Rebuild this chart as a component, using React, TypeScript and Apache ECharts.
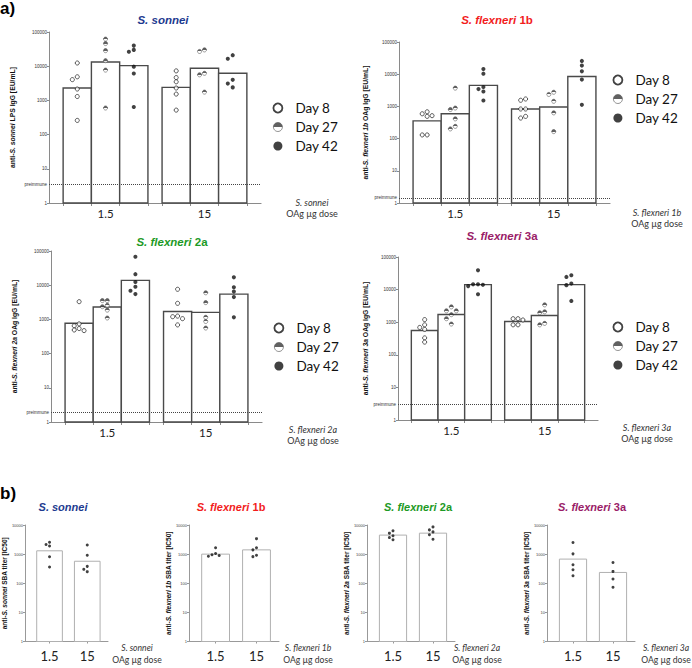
import { useEffect, useRef } from 'react';
import * as echarts from 'echarts';

// ---------- DATA ----------
const DAYS = ['Day 8', 'Day 27', 'Day 42'];
const DOSES = ['1.5', '15'];

// Panel a: IgG bars, order = [1.5: D8, D27, D42, 15: D8, D27, D42]
const SONNEI_IGG_BARS = [2300, 13300, 10400, 2400, 8700, 6200];
const SONNEI_IGG_POINTS = [
  [12400, 4900, 4050, 2150, 1300, 260],
  [62000, 46000, 28500, 14500, 7700, 600],
  [40000, 30000, 26500, 9700, 6100, 640],
  [7300, 4650, 3500, 2300, 1530, 520],
  [30000, 27000, 6200, 5600, 1750],
  [21000, 16500, 4000, 3100, 2400],
];
const FLEX1B_IGG_BARS = [355, 590, 4500, 830, 960, 8500];
const FLEX1B_IGG_POINTS = [
  [680, 590, 515, 490, 130, 130],
  [3700, 890, 800, 410, 240, 200],
  [14500, 10400, 4000, 3450, 2900, 1520],
  [1700, 1550, 830, 830, 490, 435],
  [2750, 2350, 1440, 630, 165],
  [25800, 18500, 12300, 6800, 1120],
];
const FLEX2A_IGG_BARS = [770, 2300, 13800, 1700, 1600, 5500];
const FLEX2A_IGG_POINTS = [
  [3300, 740, 650, 540, 490, 470],
  [3550, 3550, 2570, 2350, 1870, 1100],
  [68000, 21000, 12400, 9000, 6900, 5500],
  [7600, 2950, 1250, 1200, 1050, 690],
  [6000, 3100, 1150, 870, 560],
  [17000, 8700, 6500, 4500, 1150],
];
const FLEX3A_IGG_BARS = [555, 1720, 14200, 1050, 1600, 14200];
const FLEX3A_IGG_POINTS = [
  [1200, 830, 690, 600, 330, 245],
  [2950, 2230, 2230, 1700, 1280, 880],
  [39000, 14500, 14500, 12800, 14000, 7200],
  [1280, 1280, 1170, 830, 830],
  [3400, 2080, 1950, 920, 830],
  [27600, 24500, 15300, 13700, 4500],
];
const PREIMMUNE = [3.5, 1.45, 1.95, 3.0];

// Panel b: SBA titers, [1.5, 15]
const SONNEI_SBA_BARS = [1300, 570];
const SONNEI_SBA_POINTS = [[2570, 2150, 1900, 810, 360], [2050, 920, 380, 300, 250]];
const FLEX1B_SBA_BARS = [1000, 1400];
const FLEX1B_SBA_POINTS = [[1650, 1050, 950, 900, 850], [3400, 1650, 1400, 920, 820]];
const FLEX2A_SBA_BARS = [4500, 5250];
const FLEX2A_SBA_POINTS = [[6300, 5250, 4250, 3700, 3100], [8600, 6800, 5800, 4600, 3250]];
const FLEX3A_SBA_BARS = [675, 235];
const FLEX3A_SBA_POINTS = [[2500, 1020, 430, 290, 180], [515, 255, 140, 73]];

const IGG_TICKS_MAX = 100000;
const SBA_TICKS_MAX = 10000;

// ---------- LAYOUT / STYLE ----------
const BAR_X = [1, 2, 3, 4.5, 5.5, 6.5];
const BAR_EDGES = [0.5, 1.5, 2.5, 3.5, 4, 5, 6, 7];
const GROUP_CENTERS = [2, 5.5];
const SBA_X = [1, 2];

const STRAINS = [
  { key: 'sonnei', it: 'S. sonnei', rest: '', color: '#1d3a8f' },
  { key: '1b', it: 'S. flexneri', rest: '1b', color: '#f21d1d' },
  { key: '2a', it: 'S. flexneri', rest: '2a', color: '#1d9a26' },
  { key: '3a', it: 'S. flexneri', rest: '3a', color: '#9a1c68' },
];

const A_LAYOUT = [
  { left: 49, top: 32, width: 212, height: 171, legend: [272, 103], title: [163, 20], dose: [312, 202], nameGap: 33 },
  { left: 399, top: 42, width: 211, height: 161, legend: [612, 75], title: [497, 20], dose: [657, 212], nameGap: 30 },
  { left: 51, top: 251, width: 211, height: 171, legend: [273, 323], title: [172, 242], dose: [313, 429], nameGap: 33 },
  { left: 398, top: 257, width: 200, height: 163, legend: [612, 322], title: [502, 236], dose: [647, 427], nameGap: 29 },
];
const B_LAYOUT = [
  { left: 22, width: 86, title: [63, 507], dose: [137, 648], nameGap: 11 },
  { left: 189, width: 90, title: [231, 507], dose: [308, 648], nameGap: 14 },
  { left: 367, width: 88, title: [418, 507], dose: [477, 648], nameGap: 15 },
  { left: 547, width: 88, title: [592, 507], dose: [666, 648], nameGap: 12 },
];
const B_TOP = 525;
const B_HEIGHT = 116.5;

const AXIS_COLOR = '#8a8a8a';
const FONT = '"Liberation Sans", Arial, sans-serif';
const FONT2 = 'Lato, "Liberation Sans", sans-serif';

const HALF = () =>
  new echarts.graphic.LinearGradient(0, 0, 0, 1, [
    { offset: 0, color: '#3a3a3a' },
    { offset: 0.5, color: '#3a3a3a' },
    { offset: 0.5, color: '#ffffff' },
    { offset: 1, color: '#ffffff' },
  ]);

const DAY_STYLE = [
  { color: '#ffffff', borderColor: '#1a1a1a', borderWidth: 0.9 },
  { color: HALF(), borderColor: '#333', borderWidth: 0.6 },
  { color: '#111111', borderColor: '#111111', borderWidth: 0 },
];
const POINT_SIZE = 4.1;

function swarm(vals: number[], pxDecade: number, pxUnit: number, size: number): number[] {
  const offs = new Array(vals.length).fill(0);
  const placed: { y: number; x: number }[] = [];
  const order = vals.map((_, i) => i).sort((a, b) => vals[b] - vals[a]);
  const step = (size * 1.2) / pxUnit;
  const cands = [0, -1, 1, -2, 2, -3, 3];
  for (const i of order) {
    const y = Math.log10(vals[i]) * pxDecade;
    let chosen = 0;
    for (const c of cands) {
      const x = c * step;
      const hit = placed.some((p) => Math.abs(p.y - y) < size && Math.abs(p.x - x) * pxUnit < size);
      if (!hit) {
        chosen = x;
        break;
      }
    }
    offs[i] = chosen;
    placed.push({ y, x: chosen });
  }
  return offs;
}

function barRender(width: number, stroke: string, lineWidth: number) {
  return (_params: any, api: any) => {
    const x = api.value(0) as number;
    const v = api.value(1) as number;
    const tl = api.coord([x - width / 2, v]);
    const br = api.coord([x + width / 2, 1]);
    return {
      type: 'rect',
      shape: { x: tl[0], y: tl[1], width: br[0] - tl[0], height: br[1] - tl[1] },
      style: { fill: '#ffffff', stroke, lineWidth },
    };
  };
}

function yName(strain: (typeof STRAINS)[number], suffix: string) {
  const it = strain.rest ? `${strain.it} ${strain.rest}` : strain.it;
  return `{n|anti-}{i|${it}}{n|${suffix}}`;
}

function buildOption() {
  const grid: any[] = [];
  const xAxis: any[] = [];
  const yAxis: any[] = [];
  const series: any[] = [];
  const legend: any[] = [];
  const graphic: any[] = [];

  const txt = (x: number, y: number, style: any) =>
    graphic.push({ type: 'text', x, y, silent: true, style: { align: 'center', verticalAlign: 'middle', ...style } });

  txt(0, 8, { text: 'a)', align: 'left', fontSize: 17, fontWeight: 'bold', fontFamily: FONT, fill: '#000' });
  txt(0, 493, { text: 'b)', align: 'left', fontSize: 17, fontWeight: 'bold', fontFamily: FONT, fill: '#000' });

  const iggBars = [SONNEI_IGG_BARS, FLEX1B_IGG_BARS, FLEX2A_IGG_BARS, FLEX3A_IGG_BARS];
  const iggPoints = [SONNEI_IGG_POINTS, FLEX1B_IGG_POINTS, FLEX2A_IGG_POINTS, FLEX3A_IGG_POINTS];
  const sbaBars = [SONNEI_SBA_BARS, FLEX1B_SBA_BARS, FLEX2A_SBA_BARS, FLEX3A_SBA_BARS];
  const sbaPoints = [SONNEI_SBA_POINTS, FLEX1B_SBA_POINTS, FLEX2A_SBA_POINTS, FLEX3A_SBA_POINTS];

  const titleText = (s: (typeof STRAINS)[number]) => (s.rest ? `{i|${s.it}} {n|${s.rest}}` : `{i|${s.it}}`);
  const titleRich = (s: (typeof STRAINS)[number], size: number) => ({
    i: { fontStyle: 'italic', fontWeight: 'bold', fontSize: size, fontFamily: FONT, fill: s.color },
    n: { fontWeight: 'bold', fontSize: size, fontFamily: FONT, fill: s.color },
  });
  const doseLabel = (s: (typeof STRAINS)[number], x: number, y: number, size: number) => {
    txt(x, y, {
      text: s.rest ? `${s.it} ${s.rest}` : s.it,
      fontStyle: 'italic',
      fontSize: size,
      fontFamily: FONT2,
      fill: '#333',
    });
    txt(x, y + 11.5, { text: 'OAg µg dose', fontSize: size, fontFamily: FONT2, fill: '#333' });
  };

  // ---- Panel a ----
  STRAINS.forEach((s, i) => {
    const L = A_LAYOUT[i];
    grid.push({ left: L.left, top: L.top, width: L.width, height: L.height });
    xAxis.push({
      gridIndex: i,
      type: 'value',
      min: 0,
      max: 7.5,
      axisLine: { show: true, onZero: false, lineStyle: { color: AXIS_COLOR, width: 1.2 } },
      axisTick: { show: true, customValues: BAR_EDGES, length: 3, lineStyle: { color: AXIS_COLOR } },
      axisLabel: {
        show: true,
        customValues: GROUP_CENTERS,
        formatter: (v: number) => DOSES[GROUP_CENTERS.findIndex((c) => Math.abs(c - v) < 1e-6)] ?? '',
        fontSize: 11.5,
        fontFamily: FONT2,
        color: '#222',
        margin: 4,
      },
      splitLine: { show: false },
    });
    yAxis.push({
      gridIndex: i,
      type: 'log',
      logBase: 10,
      min: 1,
      max: IGG_TICKS_MAX,
      splitNumber: 5,
      axisLine: { show: true, onZero: false, lineStyle: { color: AXIS_COLOR, width: 1 } },
      axisTick: { show: true, length: 2, lineStyle: { color: AXIS_COLOR } },
      axisLabel: { fontSize: 4.5, color: '#333', margin: 2, fontFamily: FONT, formatter: (v: number) => String(Math.round(v)) },
      splitLine: { show: false },
      name: yName(s, s.key === 'sonnei' ? ' LPS IgG [EU/mL]' : ' OAg IgG [EU/mL]'),
      nameLocation: 'middle',
      nameGap: L.nameGap,
      nameTextStyle: {
        rich: {
          n: { fontSize: 6.8, fontWeight: 'bold', fontFamily: FONT, color: '#111' },
          i: { fontSize: 6.8, fontWeight: 'bold', fontStyle: 'italic', fontFamily: FONT, color: '#111' },
        },
      },
    });

    series.push({
      type: 'custom',
      name: 'bars-a' + i,
      xAxisIndex: i,
      yAxisIndex: i,
      z: 2,
      silent: true,
      renderItem: barRender(1, '#4a4a4a', 1.4),
      encode: { x: 0, y: 1 },
      data: iggBars[i].map((v, k) => [BAR_X[k], v]),
    });

    DAYS.forEach((day, d) => {
      const data: number[][] = [];
      [0, 1].forEach((g) => {
        const k = g * 3 + d;
        const pts = iggPoints[i][k];
        const offs = swarm(pts, L.height / 5, L.width / 7.5, POINT_SIZE);
        pts.forEach((v, j) => data.push([BAR_X[k] + offs[j], v]));
      });
      const ser: any = {
        type: 'scatter',
        name: day,
        xAxisIndex: i,
        yAxisIndex: i,
        z: 4,
        symbol: 'circle',
        symbolSize: POINT_SIZE,
        itemStyle: { ...DAY_STYLE[d] },
        data,
      };
      if (d === 0) {
        ser.markLine = {
          silent: true,
          symbol: 'none',
          z: 5,
          data: [{ yAxis: PREIMMUNE[i] }],
          lineStyle: { type: 'dotted', color: '#444', width: 1 },
          label: { show: true, position: 'start', formatter: 'preimmune', fontSize: 4.5, color: '#333', distance: 2, fontFamily: FONT },
        };
      }
      series.push(ser);
    });

    legend.push({
      left: L.legend[0] - 4.5,
      top: L.legend[1] - 7,
      orient: 'vertical',
      itemWidth: 9,
      itemHeight: 9,
      itemGap: 5,
      icon: 'circle',
      selectedMode: false,
      textStyle: { fontSize: 13.5, lineHeight: 14, fontFamily: FONT2, color: '#111', padding: [0, 0, 0, 8] },
      data: [
        { name: DAYS[0], itemStyle: { color: '#fff', borderColor: '#111', borderWidth: 1.8 } },
        { name: DAYS[1], itemStyle: { color: HALF(), borderColor: '#555', borderWidth: 0.8 } },
        { name: DAYS[2], itemStyle: { color: '#111', borderColor: '#111', borderWidth: 0 } },
      ],
    });

    txt(L.title[0], L.title[1], { text: titleText(s), rich: titleRich(s, 11.5) });
    doseLabel(s, L.dose[0], L.dose[1], 9);
  });

  // ---- Panel b ----
  STRAINS.forEach((s, i) => {
    const L = B_LAYOUT[i];
    const gi = 4 + i;
    grid.push({ left: L.left, top: B_TOP, width: L.width, height: B_HEIGHT });
    xAxis.push({
      gridIndex: gi,
      type: 'value',
      min: 0.35,
      max: 2.55,
      axisLine: { show: true, onZero: false, lineStyle: { color: '#999', width: 1 } },
      axisTick: { show: true, customValues: SBA_X, length: 2, lineStyle: { color: '#999' } },
      axisLabel: {
        show: true,
        customValues: SBA_X,
        formatter: (v: number) => DOSES[SBA_X.findIndex((c) => Math.abs(c - v) < 1e-6)] ?? '',
        fontSize: 13,
        fontFamily: FONT2,
        color: '#222',
        margin: 8,
      },
      splitLine: { show: false },
    });
    yAxis.push({
      gridIndex: gi,
      type: 'log',
      logBase: 10,
      min: 1,
      max: SBA_TICKS_MAX,
      splitNumber: 4,
      axisLine: { show: true, onZero: false, lineStyle: { color: '#999', width: 1 } },
      axisTick: { show: true, length: 2, lineStyle: { color: '#999' } },
      axisLabel: { fontSize: 4, color: '#444', margin: 2, fontFamily: FONT, formatter: (v: number) => String(Math.round(v)) },
      splitLine: { show: false },
      name: yName(s, ' SBA titer [IC50]'),
      nameLocation: 'middle',
      nameGap: L.nameGap,
      nameTextStyle: {
        rich: {
          n: { fontSize: 6.5, fontWeight: 'bold', fontFamily: FONT, color: '#111' },
          i: { fontSize: 6.5, fontWeight: 'bold', fontStyle: 'italic', fontFamily: FONT, color: '#111' },
        },
      },
    });
    series.push({
      type: 'custom',
      name: 'bars-b' + i,
      xAxisIndex: gi,
      yAxisIndex: gi,
      z: 2,
      silent: true,
      renderItem: barRender(0.68, '#b0b0b0', 1),
      encode: { x: 0, y: 1 },
      data: sbaBars[i].map((v, k) => [SBA_X[k], v]),
    });
    const unit = L.width / 2.2;
    const data: number[][] = [];
    sbaPoints[i].forEach((pts, k) => {
      const offs = swarm(pts, B_HEIGHT / 4, unit, 3);
      pts.forEach((v, j) => data.push([SBA_X[k] + offs[j], v]));
    });
    series.push({
      type: 'scatter',
      name: 'SBA ' + s.key,
      xAxisIndex: gi,
      yAxisIndex: gi,
      z: 4,
      symbol: 'circle',
      symbolSize: 3,
      itemStyle: { color: '#111' },
      data,
    });

    txt(L.title[0], L.title[1], { text: titleText(s), rich: titleRich(s, 11) });
    doseLabel(s, L.dose[0], L.dose[1], 8.6);
  });

  return {
    animation: false,
    backgroundColor: '#ffffff',
    grid,
    xAxis,
    yAxis,
    series,
    legend,
    graphic,
  };
}

export default function App() {
  const ref = useRef<HTMLDivElement>(null);
  useEffect(() => {
    if (!ref.current) return;
    const chart = echarts.init(ref.current, undefined, { renderer: 'svg' });
    chart.setOption(buildOption() as any);
    return () => chart.dispose();
  }, []);
  return (
    <div
      ref={ref}
      style={{ position: 'absolute', left: 0, top: 0, width: 692, height: 668, background: '#fff' }}
    />
  );
}
